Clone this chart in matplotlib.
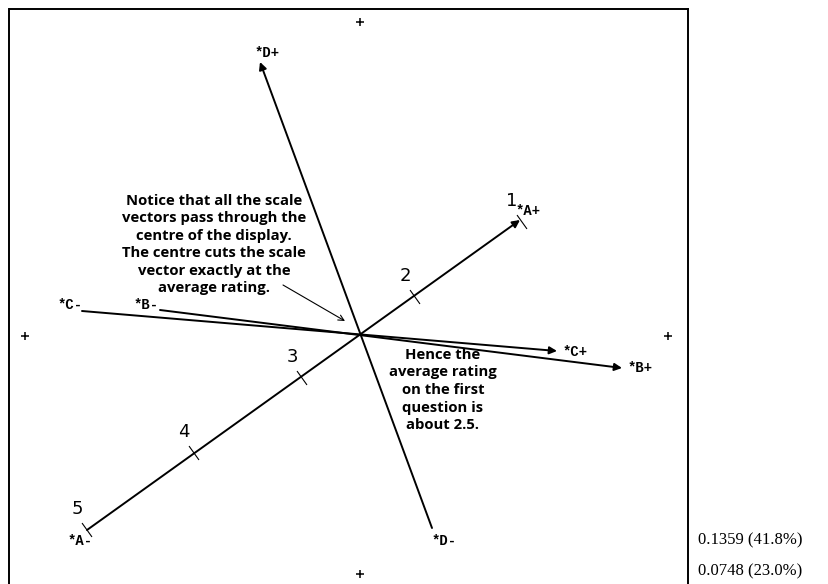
import numpy as np
import matplotlib.pyplot as plt

# scale vectors: minus end -> plus end (biplot units)
names = ["A", "B", "C", "D"]
minus_x = [-2.73, -2.00, -2.78, 0.72]
minus_y = [-1.95, 0.25, 0.24, -1.93]
plus_x = [1.60, 2.62, 1.97, -1.00]
plus_y = [1.15, -0.33, -0.16, 2.73]

# label positions for the vector ends
lab_text = ["*D+", "*A+", "*C+", "*B+", "*C-", "*B-", "*A-", "*D-"]
lab_x = [-0.93, 1.68, 2.15, 2.80, -2.90, -2.14, -2.80, 0.84]
lab_y = [2.82, 1.24, -0.17, -0.33, 0.30, 0.30, -2.06, -2.06]

# rating ticks along vector A
ratings = ["1", "2", "3", "4", "5"]
tick_x = [1.62, 0.55, -0.58, -1.66, -2.73]
tick_y = [1.13, 0.38, -0.43, -1.18, -1.95]

# frame markers
cross_x = [0, -3.35, 3.08, 0]
cross_y = [3.13, -0.01, -0.01, -2.39]

fig = plt.figure(figsize=(8.29, 5.84), dpi=100)
ax = fig.add_axes([9.5 / 829, 0, (688 - 9.5) / 829, (584 - 9) / 584])
ax.set_xlim(-3.505, 3.28)
ax.set_ylim(-2.49, 3.26)
ax.set_xticks([])
ax.set_yticks([])
ax.spines["bottom"].set_visible(False)
for s in ["left", "top", "right"]:
    ax.spines[s].set_linewidth(1.4)

for i in range(len(names)):
    ax.annotate("", xy=(plus_x[i], plus_y[i]), xytext=(minus_x[i], minus_y[i]),
                arrowprops=dict(arrowstyle="-|>", mutation_scale=11, lw=1.4,
                                color="k", shrinkA=0, shrinkB=0))

for t, x, y in zip(lab_text, lab_x, lab_y):
    ax.text(x, y, t, family="Liberation Mono", fontweight="bold", fontsize=10,
            ha="center", va="center")

# little perpendicular ticks on A
d = np.array([plus_x[0] - minus_x[0], plus_y[0] - minus_y[0]])
d = d / np.hypot(*d)
perp = np.array([d[1], -d[0]]) * 0.08
for r, x, y in zip(ratings, tick_x, tick_y):
    ax.plot([x - perp[0], x + perp[0]], [y - perp[1], y + perp[1]], color="k", lw=0.8)
    ax.text(x - 0.10, y + 0.21, r, fontsize=13, ha="center", va="center")

ax.plot(cross_x, cross_y, "k+", ms=6, mew=1.1, ls="none")

note1 = ("Notice that all the scale\nvectors pass through the\ncentre of the display.\n"
         "The centre cuts the scale\nvector exactly at the\naverage rating.")
ax.text(-1.46, 0.905, note1, family="Open Sans", fontweight="bold", fontsize=10.7,
        ha="center", va="center", linespacing=1.32)
ax.annotate("", xy=(-0.15, 0.14), xytext=(-0.77, 0.50),
            arrowprops=dict(arrowstyle="->", lw=0.8, color="k", shrinkA=0, shrinkB=0))

note2 = "Hence the\naverage rating\non the first\nquestion is\nabout 2.5."
ax.text(0.83, -0.55, note2, family="Open Sans", fontweight="bold", fontsize=10.7,
        ha="center", va="center", linespacing=1.32)

fig.text(698 / 829, 1 - 540 / 584, "0.1359 (41.8%)", family="Liberation Serif",
         fontsize=12, ha="left", va="center")
fig.text(698 / 829, 1 - 571 / 584, "0.0748 (23.0%)", family="Liberation Serif",
         fontsize=12, ha="left", va="center")

fig.savefig("out.png", dpi=100)
